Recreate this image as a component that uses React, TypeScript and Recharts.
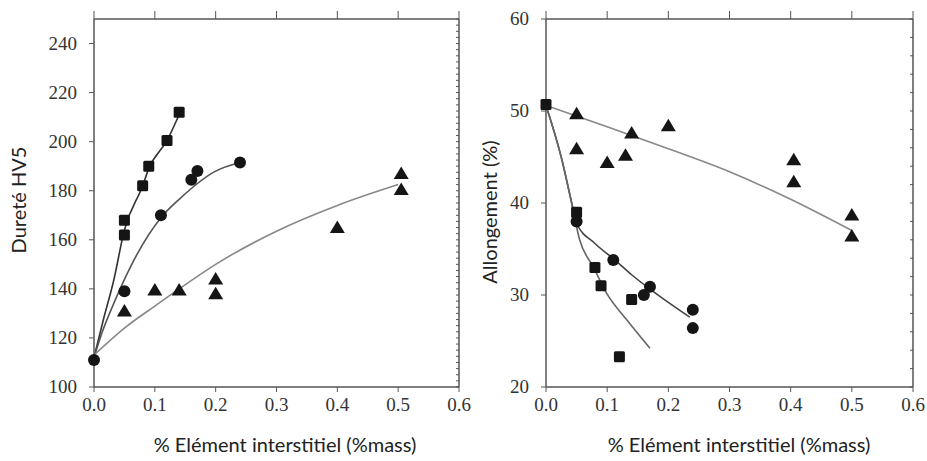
import { ComposedChart, Scatter, Line, XAxis, YAxis } from "recharts";

// shared x ticks (% mass)
const massTicks = [0, 0.1, 0.2, 0.3, 0.4, 0.5, 0.6];

// --- Dureté HV5 (left panel) ---
const hvTicks = [100, 120, 140, 160, 180, 200, 220, 240];
const hvSquareX = [0.05, 0.05, 0.08, 0.09, 0.12, 0.14];
const hvSquareY = [168, 162, 182, 190, 200.5, 212];
const hvCircleX = [0, 0.05, 0.11, 0.16, 0.17, 0.24];
const hvCircleY = [111, 139, 170, 184.5, 188, 191.5];
const hvTriX = [0.05, 0.1, 0.14, 0.2, 0.2, 0.4, 0.505, 0.505];
const hvTriY = [131, 139.5, 139.5, 144, 138, 165, 187, 180.5];
const hvSquareFitX = [0, 0.016, 0.032, 0.05, 0.08, 0.09, 0.12, 0.14];
const hvSquareFitY = [112, 128, 143, 164, 182, 189, 200.5, 211];
const hvCircleFitX = [0, 0.013, 0.035, 0.06, 0.11, 0.14, 0.2, 0.24];
const hvCircleFitY = [112, 122, 135.5, 149, 169, 176.5, 188, 191.5];
const hvTriFitX = [0, 0.05, 0.1, 0.14, 0.2, 0.3, 0.4, 0.5];
const hvTriFitY = [113, 124, 133, 140, 150, 163.5, 174, 182.5];

// --- Allongement (right panel) ---
const elTicks = [20, 30, 40, 50, 60];
const elTriX = [0.05, 0.05, 0.1, 0.13, 0.14, 0.2, 0.405, 0.405, 0.5, 0.5];
const elTriY = [49.7, 45.9, 44.4, 45.2, 47.6, 48.4, 44.7, 42.3, 38.7, 36.4];
const elSquareX = [0, 0.05, 0.08, 0.09, 0.14, 0.12];
const elSquareY = [50.7, 39, 33, 31, 29.5, 23.3];
const elCircleX = [0.05, 0.11, 0.16, 0.17, 0.24, 0.24];
const elCircleY = [38, 33.8, 30, 30.9, 28.4, 26.4];
const elTriFitX = [0, 0.1, 0.2, 0.3, 0.4, 0.5];
const elTriFitY = [50.6, 48.3, 45.9, 43.4, 40.4, 37];
const elCircleFitX = [0, 0.026, 0.041, 0.05, 0.08, 0.113, 0.14, 0.175, 0.235];
const elCircleFitY = [50.6, 44.7, 40.3, 37.8, 35.6, 33.8, 32.2, 30.4, 27.6];
const elSquareFitX = [0, 0.026, 0.041, 0.055, 0.077, 0.099, 0.132, 0.17];
const elSquareFitY = [50.6, 44.7, 40.3, 36, 33.1, 30.2, 27.3, 24.2];

const xTitle = "% Elément interstitiel (%mass)";
const hvTitle = "Dureté HV5";
const elTitle = "Allongement (%)";

const zip = (xs: number[], ys: number[]) => xs.map((x, i) => ({ x, y: ys[i] }));
const range = (a: number, b: number, step: number) => {
  const out: number[] = [];
  for (let v = a; v <= b + 1e-9; v += step) out.push(Math.round(v * 100) / 100);
  return out;
};

const INK = "#151515";
const AXIS = "#555";
const serifStyle = { fontFamily: "'Liberation Serif'", fontSize: 19 };
const titleStyle = { fontFamily: "Lato", fontSize: 20, fill: "#222" };

// serif tick labels, like the original figure
const XTick = (p: any) => (
  <text x={p.x} y={p.y + 15} textAnchor="middle" fill="#333" style={serifStyle}>
    {Number(p.payload.value).toFixed(1)}
  </text>
);
const YTick = (p: any) => (
  <text x={p.x} y={p.y + 6} textAnchor="end" fill="#333" style={serifStyle}>
    {p.payload.value}
  </text>
);

const SquareMark = (p: any) => (
  <rect x={p.cx - 5.5} y={p.cy - 5.5} width={11} height={11} rx={1.5} fill={INK} />
);
const CircleMark = (p: any) => <circle cx={p.cx} cy={p.cy} r={6} fill={INK} />;
const TriMark = (p: any) => (
  <polygon
    points={`${p.cx},${p.cy - 7} ${p.cx - 7.5},${p.cy + 5.5} ${p.cx + 7.5},${p.cy + 5.5}`}
    fill={INK}
  />
);
const NoMark = () => <g />;
const blank = () => "";

interface PanelProps {
  width: number;
  yWidth: number;
  marginRight: number;
  yDomain: [number, number];
  yTicks: number[];
  minorTicks: number[];
  fits: { data: { x: number; y: number }[]; color: string }[];
  squares: { x: number; y: number }[];
  circles: { x: number; y: number }[];
  triangles: { x: number; y: number }[];
}

function Panel(props: PanelProps) {
  const axisLine = { stroke: AXIS, strokeWidth: 1.5 };
  return (
    <ComposedChart
      width={props.width}
      height={461}
      margin={{ top: 18, right: props.marginRight, bottom: 0, left: 0 }}
    >
      <XAxis
        xAxisId="b"
        type="number"
        dataKey="x"
        domain={[0, 0.6]}
        ticks={massTicks}
        height={74}
        tickSize={5}
        tickMargin={4}
        tick={XTick}
        axisLine={axisLine}
        tickLine={{ stroke: AXIS }}
      />
      <XAxis
        xAxisId="t"
        orientation="top"
        type="number"
        dataKey="x"
        domain={[0, 0.6]}
        ticks={massTicks}
        height={1}
        tickFormatter={blank}
        tickSize={8}
        axisLine={axisLine}
        tickLine={{ stroke: AXIS }}
      />
      <YAxis
        yAxisId="l"
        type="number"
        dataKey="y"
        domain={props.yDomain}
        ticks={props.yTicks}
        width={props.yWidth}
        tickSize={5}
        tickMargin={12}
        tick={YTick}
        axisLine={axisLine}
        tickLine={{ stroke: AXIS }}
      />
      <YAxis
        yAxisId="r"
        orientation="right"
        mirror
        type="number"
        dataKey="y"
        domain={props.yDomain}
        ticks={props.minorTicks}
        width={1}
        tickFormatter={blank}
        tickSize={3}
        axisLine={axisLine}
        tickLine={{ stroke: AXIS }}
      />
      {props.fits.map((f, i) => (
        <Line
          key={i}
          xAxisId="b"
          yAxisId="l"
          data={f.data}
          dataKey="y"
          type="monotone"
          stroke={f.color}
          strokeWidth={1.6}
          dot={false}
          activeDot={false}
          isAnimationActive={false}
        />
      ))}
      <Scatter xAxisId="b" yAxisId="l" data={props.triangles} shape={TriMark} isAnimationActive={false} />
      <Scatter xAxisId="b" yAxisId="l" data={props.circles} shape={CircleMark} isAnimationActive={false} />
      <Scatter xAxisId="b" yAxisId="l" data={props.squares} shape={SquareMark} isAnimationActive={false} />
      {/* invisible series so the top / right frame axes are used */}
      <Scatter xAxisId="t" yAxisId="r" data={props.squares} shape={NoMark} isAnimationActive={false} />
    </ComposedChart>
  );
}

export default function App() {
  return (
    <div
      style={{
        position: "absolute",
        left: 0,
        top: 0,
        width: 927,
        height: 461,
        background: "#fff",
      }}
    >
      <div style={{ position: "absolute", left: 0, top: 0 }}>
        <Panel
          width={480}
          yWidth={94}
          marginRight={21}
          yDomain={[100, 250]}
          yTicks={hvTicks}
          minorTicks={range(100, 250, 2.5)}
          fits={[
            { data: zip(hvSquareFitX, hvSquareFitY), color: "#333" },
            { data: zip(hvCircleFitX, hvCircleFitY), color: "#555" },
            { data: zip(hvTriFitX, hvTriFitY), color: "#888" },
          ]}
          squares={zip(hvSquareX, hvSquareY)}
          circles={zip(hvCircleX, hvCircleY)}
          triangles={zip(hvTriX, hvTriY)}
        />
      </div>
      <div style={{ position: "absolute", left: 470, top: 0 }}>
        <Panel
          width={457}
          yWidth={76}
          marginRight={14}
          yDomain={[20, 60]}
          yTicks={elTicks}
          minorTicks={range(20, 60, 2)}
          fits={[
            { data: zip(elTriFitX, elTriFitY), color: "#888" },
            { data: zip(elCircleFitX, elCircleFitY), color: "#444" },
            { data: zip(elSquareFitX, elSquareFitY), color: "#666" },
          ]}
          squares={zip(elSquareX, elSquareY)}
          circles={zip(elCircleX, elCircleY)}
          triangles={zip(elTriX, elTriY)}
        />
      </div>
      {/* axis titles */}
      <svg
        width={927}
        height={461}
        style={{ position: "absolute", left: 0, top: 0, pointerEvents: "none" }}
      >
        <text x={285} y={452} textAnchor="middle" style={titleStyle}>
          {xTitle}
        </text>
        <text x={739} y={452} textAnchor="middle" style={titleStyle}>
          {xTitle}
        </text>
        <text
          x={18}
          y={200}
          textAnchor="middle"
          dominantBaseline="central"
          transform="rotate(-90 18 200)"
          style={titleStyle}
        >
          {hvTitle}
        </text>
        <text
          x={489}
          y={212}
          textAnchor="middle"
          dominantBaseline="central"
          transform="rotate(-90 489 212)"
          style={titleStyle}
        >
          {elTitle}
        </text>
      </svg>
    </div>
  );
}
